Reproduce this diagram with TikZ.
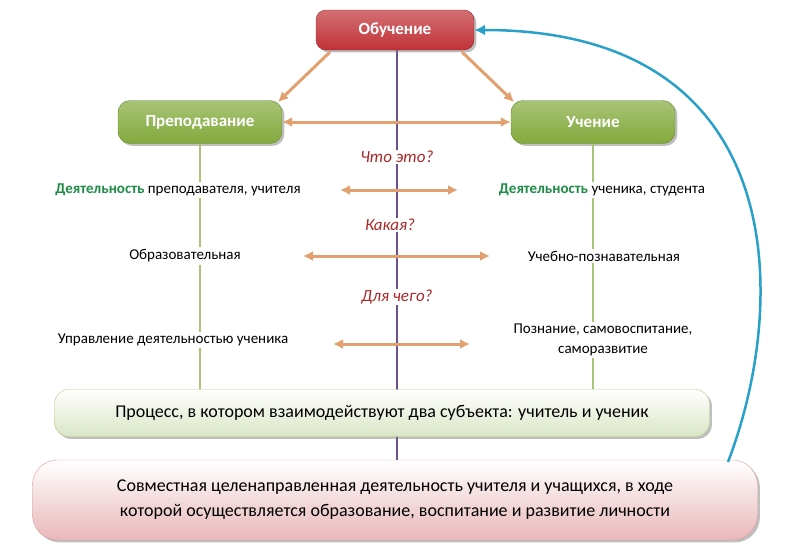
\documentclass[tikz,border=0pt]{standalone}
\usepackage{fontspec}
\setmainfont{Carlito}
\usetikzlibrary{arrows.meta, positioning, shadows}
\definecolor{topRed}{RGB}{192, 50, 55}
\definecolor{leafGreen}{RGB}{130, 170, 60}
\definecolor{arrowOrange}{RGB}{225, 160, 110}
\definecolor{axisPurple}{RGB}{110, 80, 140}
\definecolor{wordGreen}{RGB}{30, 140, 70}
\definecolor{askRed}{RGB}{170, 40, 40}
\definecolor{loopBlue}{RGB}{40, 160, 200}

\begin{document}
\begin{tikzpicture}[x=1pt, y=-1pt,
    topbox/.style={rounded corners=10pt, draw=topRed!80!black, top color=topRed!70, bottom color=topRed, text=white, font=\fontsize{17}{20}\selectfont\bfseries, minimum width=158pt, minimum height=40pt, drop shadow},
    leaf/.style={rounded corners=12pt, draw=leafGreen!80!black, top color=leafGreen!70, bottom color=leafGreen, text=white, font=\fontsize{17}{20}\selectfont\bfseries, minimum width=164pt, minimum height=43pt, drop shadow},
    row/.style={font=\fontsize{15}{20}\selectfont, align=center, inner sep=2pt},
    ask/.style={font=\fontsize{17}{20}\selectfont\itshape, text=askRed, fill=white, inner sep=1pt},
    twin/.style={{Latex[length=10pt, width=10pt]}-{Latex[length=10pt, width=10pt]}, arrowOrange, line width=3pt},
    down/.style={-{Latex[length=10pt, width=10pt]}, arrowOrange, line width=3pt},
    stem/.style={leafGreen!70, line width=2.5pt}
]
    \useasboundingbox (0,0) rectangle (790,555);

    % axis
    \coordinate (axtop) at (397,50);
    \coordinate (axbot) at (397,462);
    \draw[axisPurple, line width=2pt] (axtop) -- (axbot);

    % main nodes
    \node[topbox] (learning) at (395,30) {Обучение};
    \node[leaf] (teaching) at (200,122) {Преподавание};
    \node[leaf] (study) at (593,122) {Учение};

    \coordinate (dl1) at (330,52); \coordinate (dl2) at (278,102);
    \coordinate (dr1) at (462,52); \coordinate (dr2) at (514,102);
    \draw[down] (dl1) -- (dl2);
    \draw[down] (dr1) -- (dr2);
    \draw[twin] (teaching) -- (study);

    % rows
    \node[ask] (q1) at (397,157) {Что это?};
    \node[row] (t1) at (178,190) {{\color{wordGreen}\bfseries Деятельность} преподавателя, учителя};
    \node[row] (s1) at (602,190) {{\color{wordGreen}\bfseries Деятельность} ученика, студента};
    \coordinate (a1l) at (340,190); \coordinate (a1r) at (458,190);
    \draw[twin] (a1l) -- (a1r);

    \node[ask] (q2) at (390,225) {Какая?};
    \node[row] (t2) at (185,256) {Образовательная};
    \node[row] (s2) at (604,256) {Учебно-познавательная};
    \coordinate (a2l) at (303,256); \coordinate (a2r) at (490,256);
    \draw[twin] (a2l) -- (a2r);

    \node[ask] (q3) at (397,297) {Для чего?};
    \node[row] (t3) at (173,340) {Управление деятельностью ученика};
    \node[row] (s3) at (603,340) {Познание, самовоспитание,\\саморазвитие};
    \coordinate (a3l) at (333,344); \coordinate (a3r) at (470,344);
    \draw[twin] (a3l) -- (a3r);

    % bottom boxes
    \node[rounded corners=14pt, draw=leafGreen!60, top color=white, bottom color=leafGreen!30, minimum width=655pt, minimum height=47pt, font=\fontsize{18}{22}\selectfont, drop shadow] (process) at (382,413) {Процесс, в котором взаимодействуют два субъекта: учитель и ученик};
    \node[rounded corners=25pt, draw=topRed!50, top color=white, bottom color=topRed!35, minimum width=725pt, minimum height=80pt, font=\fontsize{18}{25}\selectfont, align=center, drop shadow] (joint) at (395,500) {Совместная целенаправленная деятельность учителя и учащихся, в ходе\\которой осуществляется образование, воспитание и развитие личности};

    % stems
    \draw[stem] (teaching.south) -- (teaching |- t1.north);
    \draw[stem] (teaching |- t1.south) -- (teaching |- t2.north);
    \draw[stem] (teaching |- t2.south) -- (teaching |- t3.north);
    \draw[stem] (teaching |- t3.south) -- (teaching |- process.north);
    \draw[stem] (study.south) -- (study |- s1.north);
    \draw[stem] (study |- s1.south) -- (study |- s2.north);
    \draw[stem] (study |- s2.south) -- (study |- s3.north);
    \draw[stem] (study |- s3.south) -- (study |- process.north);

    % loop back
    \coordinate (loopstart) at (728,462);
    \draw[-{Latex[length=11pt, width=11pt]}, loopBlue, line width=2.5pt] (loopstart) .. controls (790,300) and (790,30) .. (learning.east);
\end{tikzpicture}
\end{document}
